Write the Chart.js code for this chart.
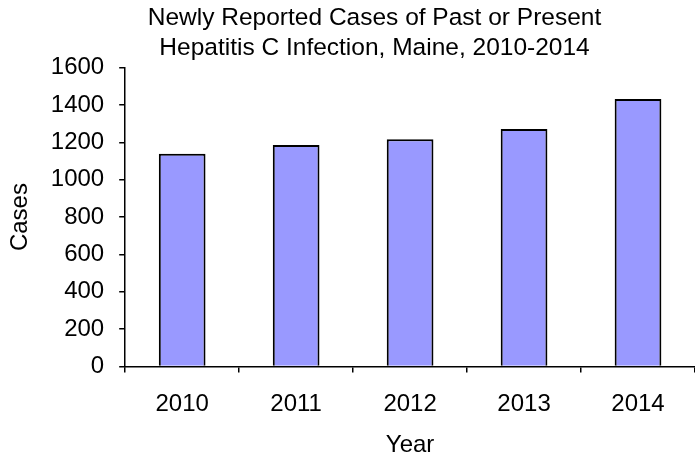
<!DOCTYPE html>
<html>
<head>
<meta charset="utf-8">
<script src="https://cdn.jsdelivr.net/npm/chart.js@4/dist/chart.umd.min.js"></script>
<style>
html,body{margin:0;padding:0;background:#fff;}
#wrap{width:695px;height:460px;}
</style>
</head>
<body>
<div id="wrap"><canvas id="c" width="695" height="460"></canvas></div>
<script>
const categories = ['2010', '2011', '2012', '2013', '2014'];
const cases = [1140, 1186, 1217, 1272, 1433];
const titleLines = ['Newly Reported Cases of Past or Present', 'Hepatitis C Infection, Maine, 2010-2014'];
const yTicks = { min: 0, max: 1600, step: 200 };

const FONT = "'Liberation Sans', Arial, sans-serif";

const shiftTitle = {
  id: 'shiftTitle',
  afterLayout(chart) {
    const t = chart.titleBlock;
    if (t) { t.left = 54; t.right = chart.width; t.width = t.right - t.left; }
  }
};

new Chart(document.getElementById('c'), {
  type: 'bar',
  data: {
    labels: categories,
    datasets: [{
      data: cases,
      backgroundColor: '#9999FF',
      borderColor: '#000000',
      borderWidth: 2,
      barPercentage: 0.41,
      categoryPercentage: 1.0
    }]
  },
  options: {
    responsive: false,
    animation: false,
    devicePixelRatio: 1,
    layout: { padding: { left: 6, right: 0, top: 4, bottom: 0 } },
    plugins: {
      legend: { display: false },
      tooltip: { enabled: false },
      title: {
        display: true,
        text: titleLines,
        color: '#000',
        font: { family: FONT, size: 24.5, weight: 'normal', lineHeight: 1.2 },
        padding: { top: 0, bottom: 5 }
      }
    },
    scales: {
      x: {
        offset: true,
        border: { color: '#000', width: 1.5 },
        grid: { offset: true, drawOnChartArea: false, color: '#000', lineWidth: 1.5, tickLength: 6 },
        ticks: { color: '#000', font: { family: FONT, size: 24 }, padding: 18, maxRotation: 0 },
        title: { display: true, text: 'Year', color: '#000', font: { family: FONT, size: 24 }, padding: { top: -6, bottom: 0 } }
      },
      y: {
        min: yTicks.min,
        max: yTicks.max,
        border: { color: '#000', width: 1.5 },
        grid: { drawOnChartArea: false, color: '#000', lineWidth: 1.5, tickLength: 6 },
        ticks: {
          stepSize: yTicks.step, color: '#000', font: { family: FONT, size: 24 }, padding: 15,
          callback: (v) => String(v)
        },
        title: { display: true, text: 'Cases', color: '#000', font: { family: FONT, size: 24 }, padding: { top: 0, bottom: 1 } }
      }
    }
  },
  plugins: [shiftTitle]
});
</script>
</body>
</html>
